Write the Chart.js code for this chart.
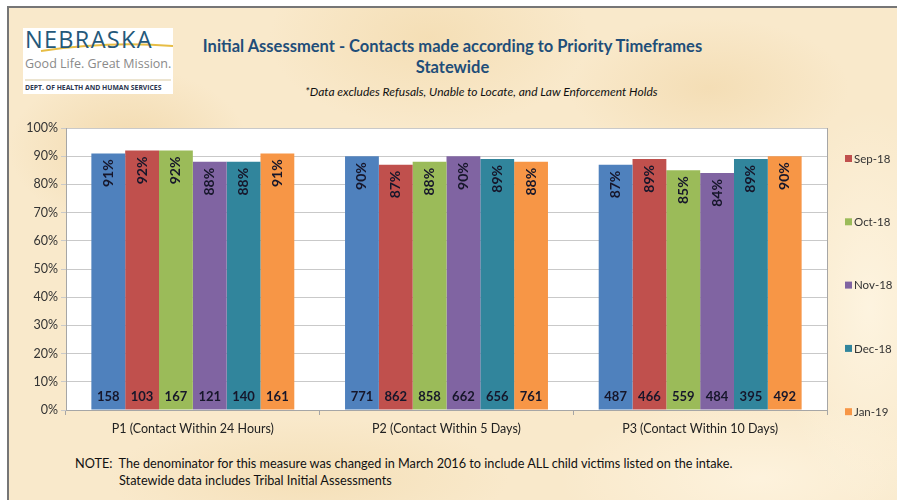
<!DOCTYPE html>
<html>
<head>
<meta charset="utf-8">
<script src="https://cdn.jsdelivr.net/npm/chart.js@4.4.1/dist/chart.umd.min.js"></script>
<style>
  html, body { margin: 0; padding: 0; background: #fff; }
  #page { position: absolute; left: 0; top: 0; width: 897px; height: 500px; overflow: hidden; background: #fff; }
  #paper {
    position: absolute; left: 7px; top: 6px; right: 0; bottom: 0;
    border-left: 2px solid #767676; border-top: 2px solid #767676;
    background-color: #f9e9cb;
    background-image:
      radial-gradient(ellipse 120px 80px at 120px 140px, rgba(236,205,150,0.55), rgba(236,205,150,0) 100%),
      radial-gradient(ellipse 160px 90px at 420px 30px, rgba(240,212,160,0.5), rgba(240,212,160,0) 100%),
      radial-gradient(ellipse 140px 70px at 700px 80px, rgba(238,208,155,0.45), rgba(238,208,155,0) 100%),
      radial-gradient(ellipse 200px 60px at 300px 470px, rgba(240,214,165,0.5), rgba(240,214,165,0) 100%),
      radial-gradient(ellipse 90px 200px at 860px 300px, rgba(255,248,232,0.7), rgba(255,248,232,0) 100%),
      radial-gradient(ellipse 200px 80px at 750px 470px, rgba(255,246,228,0.7), rgba(255,246,228,0) 100%);
  }
  .txt { position: absolute; white-space: nowrap; font-family: Lato, "Open Sans", sans-serif; }
  #logo { position: absolute; left: 23px; top: 28px; width: 150px; height: 66px; background: #fff; }
  #chart { position: absolute; left: 0; top: 0; }
</style>
</head>
<body>
<div id="page">
  <div id="paper"></div>

  <div id="logo">
    <svg width="150" height="66" style="position:absolute;left:0;top:0;">
      <path d="M 18 23 Q 85 13 150 18" stroke="#e7bd45" stroke-width="2" fill="none"/>
      <line x1="2" y1="52" x2="148" y2="52" stroke="#d9c9a0" stroke-width="1"/>
    </svg>
    <div class="txt" style="left:2px; top:-5px; font-family:'Open Sans', sans-serif; font-size:23.5px; font-weight:400; letter-spacing:1.3px; color:#24587a;">NEBRASKA</div>
    <div class="txt" style="left:2px; top:27px; font-family:'Open Sans', sans-serif; font-size:12.5px; color:#8a8a8a;">Good Life. Great Mission.</div>
    <div class="txt" style="left:2px; top:55px; font-family:'Open Sans', sans-serif; font-size:6.8px; font-weight:700; color:#2a3550;">DEPT. OF HEALTH AND HUMAN SERVICES</div>
  </div>

  <div class="txt" style="left:0; width:905px; text-align:center; top:36px; font-size:16.5px; font-weight:700; color:#1f4e79;">Initial Assessment - Contacts made according to Priority Timeframes</div>
  <div class="txt" style="left:0; width:905px; text-align:center; top:57px; font-size:16.5px; font-weight:700; color:#1f4e79;">Statewide</div>
  <div class="txt" style="left:305px; top:84px; font-size:12px; font-style:italic; color:#111;">*Data excludes Refusals, Unable to Locate, and Law Enforcement Holds</div>

  <div class="txt" style="left:75px; top:455px; font-size:12.7px; color:#111;">NOTE:&nbsp; The denominator for this measure was changed in March 2016 to include ALL child victims listed on the intake.</div>
  <div class="txt" style="left:119px; top:472px; font-size:12.7px; color:#111;">Statewide data includes Tribal Initial Assessments</div>

  <canvas id="chart" width="897" height="500"></canvas>
</div>

<script>
// ----------------------------
// Data
// ----------------------------
const categories = ['P1 (Contact Within 24 Hours)', 'P2 (Contact Within 5 Days)', 'P3 (Contact Within 10 Days)'];
const months = ['Aug-18', 'Sep-18', 'Oct-18', 'Nov-18', 'Dec-18', 'Jan-19'];

// percent contacted within timeframe, per priority
const pctAug18 = [91, 90, 87];
const pctSep18 = [92, 87, 89];
const pctOct18 = [92, 88, 85];
const pctNov18 = [88, 90, 84];
const pctDec18 = [88, 89, 89];
const pctJan19 = [91, 88, 90];

// number of child victims (shown at the foot of each bar)
const cntAug18 = [158, 771, 487];
const cntSep18 = [103, 862, 466];
const cntOct18 = [167, 858, 559];
const cntNov18 = [121, 662, 484];
const cntDec18 = [140, 656, 395];
const cntJan19 = [161, 761, 492];

const yTicks = [0, 10, 20, 30, 40, 50, 60, 70, 80, 90, 100];

const colors = ['#4f81bd', '#c0504d', '#9bbb59', '#8064a2', '#31859c', '#f79646'];
const pcts = [pctAug18, pctSep18, pctOct18, pctNov18, pctDec18, pctJan19];
const counts = [cntAug18, cntSep18, cntOct18, cntNov18, cntDec18, cntJan19];

Chart.defaults.font.family = 'Lato, "Open Sans", sans-serif';

// ----------------------------
// Plugins
// ----------------------------
const plotBox = {
  id: 'plotBox',
  beforeDraw(chart) {
    const { ctx, chartArea: a } = chart;
    ctx.save();
    ctx.fillStyle = '#ffffff';
    ctx.fillRect(a.left, a.top, a.right - a.left, a.bottom - a.top);
    ctx.restore();
  },
  afterDraw(chart) {
    const { ctx, chartArea: a } = chart;
    ctx.save();
    ctx.strokeStyle = '#a6a6a6';
    ctx.lineWidth = 1;
    ctx.beginPath();
    ctx.moveTo(a.right + 0.5, a.top);
    ctx.lineTo(a.right + 0.5, a.bottom + 5);
    ctx.stroke();
    ctx.restore();
  }
};

const barLabels = {
  id: 'barLabels',
  afterDatasetsDraw(chart) {
    const ctx = chart.ctx;
    chart.data.datasets.forEach((ds, i) => {
      const meta = chart.getDatasetMeta(i);
      meta.data.forEach((bar, j) => {
        ctx.save();
        ctx.fillStyle = '#16162a';
        ctx.font = 'bold 14px Lato, "Open Sans", sans-serif';
        ctx.translate(bar.x, bar.y + 6);
        ctx.rotate(-Math.PI / 2);
        ctx.textAlign = 'right';
        ctx.textBaseline = 'middle';
        ctx.fillText(ds.data[j] + '%', 0, 0);
        ctx.restore();

        ctx.save();
        ctx.fillStyle = '#16162a';
        ctx.font = 'bold 13px Lato, "Open Sans", sans-serif';
        ctx.textAlign = 'center';
        ctx.textBaseline = 'middle';
        ctx.fillText(counts[i][j], bar.x, bar.base - 13);
        ctx.restore();
      });
    });
  }
};

// right-side legend, first series is off the top of the original
const sideLegend = {
  id: 'sideLegend',
  afterDraw(chart) {
    const ctx = chart.ctx;
    ctx.save();
    ctx.font = '11.5px Lato, "Open Sans", sans-serif';
    ctx.textBaseline = 'middle';
    chart.data.datasets.forEach((ds, i) => {
      if (i === 0) return;
      const y = 159 + (i - 1) * 63.3;
      ctx.fillStyle = ds.backgroundColor;
      ctx.fillRect(845, y - 4, 7, 7);
      ctx.fillStyle = '#333';
      ctx.fillText(ds.label, 854, y);
    });
    ctx.restore();
  }
};

// ----------------------------
// Chart
// ----------------------------
new Chart(document.getElementById('chart').getContext('2d'), {
  type: 'bar',
  data: {
    labels: categories,
    datasets: months.map((m, i) => ({
      label: m,
      data: pcts[i],
      backgroundColor: colors[i],
      categoryPercentage: 0.8,
      barPercentage: 1.0
    }))
  },
  options: {
    responsive: false,
    animation: false,
    layout: { padding: { left: 0, top: 128, right: 70, bottom: 60 } },
    plugins: { legend: { display: false }, tooltip: { enabled: false } },
    scales: {
      x: {
        afterFit(scale) { scale.height = 30; },
        grid: { offset: true, drawOnChartArea: false, tickLength: 5, color: '#a6a6a6' },
        border: { color: '#a6a6a6' },
        ticks: { color: '#222', font: { size: 12.5 }, padding: 6 }
      },
      y: {
        min: 0,
        max: 100,
        afterFit(scale) { scale.width = 66; },
        afterBuildTicks(scale) { scale.ticks = yTicks.map(v => ({ value: v })); },
        grid: { color: '#c9c9c9', tickLength: 5 },
        border: { color: '#a6a6a6' },
        ticks: { color: '#333', font: { size: 12.5 }, padding: 3, callback: v => v + '%' }
      }
    }
  },
  plugins: [plotBox, barLabels, sideLegend]
});
</script>
</body>
</html>
